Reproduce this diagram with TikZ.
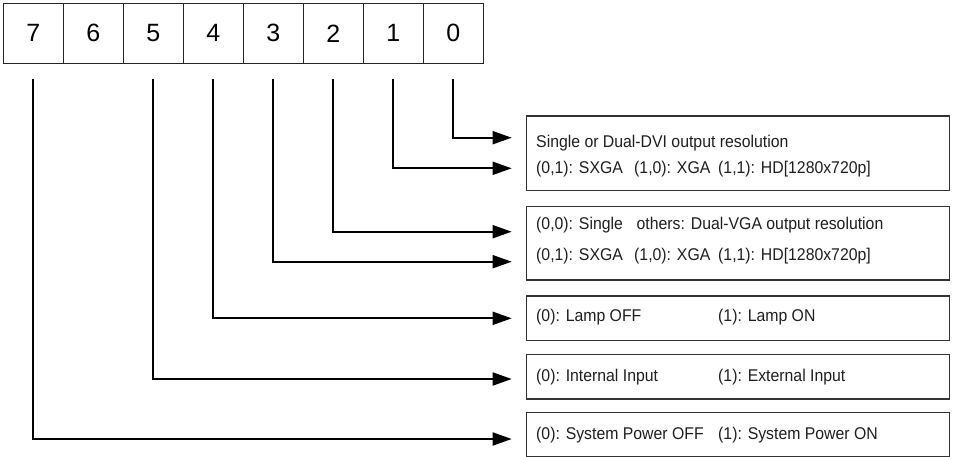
\documentclass[tikz,border=0pt]{standalone}
\usepackage{fontspec}
\setmainfont{Liberation Sans}
\newfontfamily\narrowsans[FakeStretch=0.93]{Liberation Sans}
\usetikzlibrary{arrows.meta}
\begin{document}
\begin{tikzpicture}[x=1pt,y=-1pt,
  bitcell/.style={draw=black!85,line width=1.3pt,minimum width=60pt,minimum height=60pt,
    inner sep=0pt,font=\fontsize{25}{25}\selectfont},
  infobox/.style={draw=black!80,line width=1.3pt,minimum width=422.6pt,inner sep=0pt},
  label/.style={anchor=base west,inner sep=0pt,text=black!88,font=\narrowsans\fontsize{17}{18}\selectfont},
  conn/.style={draw=black,line width=1.8pt,-{Triangle[length=19pt,width=13pt]}}]
\useasboundingbox[fill=white] (0,0) rectangle (953,456);

% register bits, MSB on the left
\foreach \b [count=\i from 0] in {7,6,5,4,3,2,1,0}
  \node[bitcell] (b\b) at (33.3+60*\i,33.3) {\b};

% description boxes
\node[infobox,minimum height=74.3pt] (box1) at (738,153.2) {};
\node[infobox,minimum height=73.7pt] (box2) at (738,243.2) {};
\node[infobox,minimum height=44.7pt] (box3) at (738,318.3) {};
\node[infobox,minimum height=44.7pt] (box4) at (738,376.7) {};
\node[infobox,minimum height=44.7pt] (box5) at (738,434.7) {};

% box texts
\node[label] (l1a) at (536,147.5) {Single or Dual-DVI output resolution};
\node[label] (l1b) at (536,173.5) {(0,1): SXGA};
\node[label] (l1c) at (634,173.5) {(1,0): XGA};
\node[label] (l1d) at (718,173.5) {(1,1): HD[1280x720p]};

\node[label] (l2a) at (536,229.5) {(0,0): Single};
\node[label] (l2b) at (636.5,229.5) {others: Dual-VGA output resolution};
\node[label] (l2c) at (536,260) {(0,1): SXGA};
\node[label] (l2d) at (634,260) {(1,0): XGA};
\node[label] (l2e) at (718,260) {(1,1): HD[1280x720p]};

\node[label] (l3a) at (536,321) {(0): Lamp OFF};
\node[label] (l3b) at (718,321) {(1): Lamp ON};

\node[label] (l4a) at (536,381) {(0): Internal Input};
\node[label] (l4b) at (718,381) {(1): External Input};

\node[label] (l5a) at (536,439.3) {(0): System Power OFF};
\node[label] (l5b) at (718,439.3) {(1): System Power ON};

% connector start points, just under each bit cell
\foreach \b in {0,1,2,3,4,5,7}
  \coordinate (s\b) at ([yshift=-14.7pt]b\b.south);

% arrow tips, left of the description boxes
\coordinate (t0) at (511.7,137.7);
\coordinate (t1) at (511.7,168.3);
\coordinate (t2) at (511.7,231.7);
\coordinate (t3) at (511.7,261.7);
\coordinate (t4) at (511.7,318.3);
\coordinate (t5) at (511.7,379);
\coordinate (t7) at (511.7,439);

\foreach \b in {0,1,2,3,4,5,7}
  \draw[conn] (s\b) |- (t\b);
\end{tikzpicture}
\end{document}
